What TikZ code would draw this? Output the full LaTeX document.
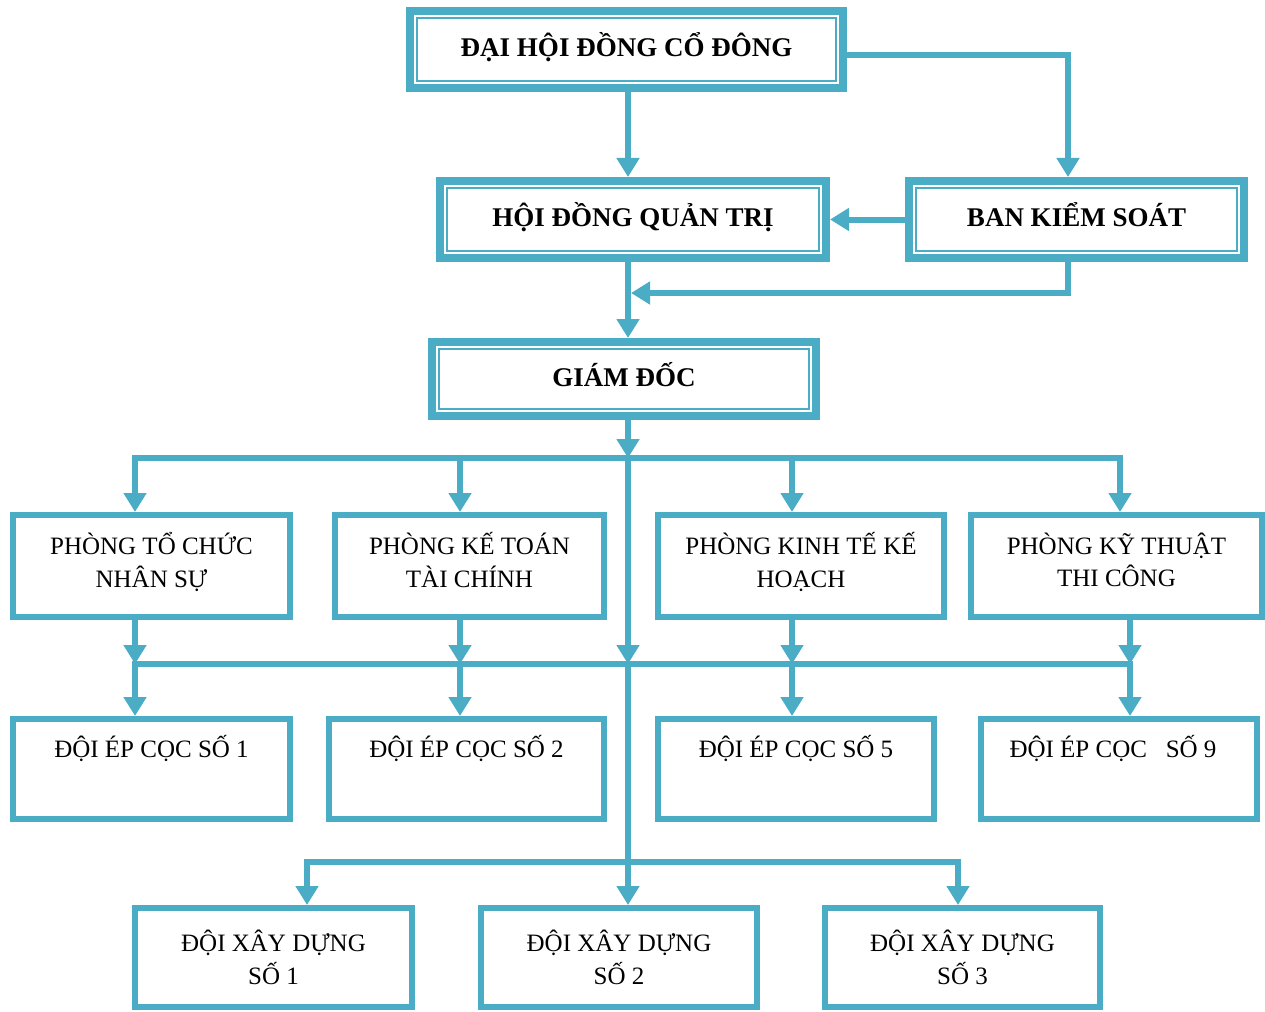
\documentclass[tikz,border=0pt]{standalone}
\usepackage{fontspec}
\setmainfont{Liberation Serif}
\usetikzlibrary{arrows.meta}
\definecolor{tealc}{HTML}{4BACC6}
\tikzset{
  ln/.style={draw=tealc, line width=6pt},
  bus/.style={ln, line cap=rect},
  arr/.style={ln, -{Triangle[width=22pt,length=19pt]}},
  dbox/.style={draw=tealc, line width=8pt, minimum height=77pt, inner sep=0pt,
    text height=20pt, text depth=6pt,
    font=\fontsize{27}{32}\selectfont\bfseries},
  sbox/.style={draw=tealc, line width=6pt, inner sep=0pt, align=center,
    font=\fontsize{25}{32.5}\selectfont},
  tbox/.style={draw=tealc, line width=6pt, inner sep=0pt, minimum height=100pt,
    text height=22pt, text depth=46pt, font=\fontsize{25}{32}\selectfont},
  innerline/.style={draw=tealc, line width=2pt}
}
\newcommand\innerbox[1]{\draw[innerline] ([shift={(11pt,-11pt)}]#1.north west) rectangle ([shift={(-11pt,11pt)}]#1.south east);}
\newcommand\liftup{\\[-20pt]\mbox{}}
\begin{document}
\begin{tikzpicture}[x=1pt,y=-1pt]
\useasboundingbox (0,0) rectangle (1265,1011);
% top level boxes
\node[dbox, minimum width=433pt] (dh) at (626.5,49.5) {ĐẠI HỘI ĐỒNG CỔ ĐÔNG};
\node[dbox, minimum width=386pt] (hd) at (633,219.5) {HỘI ĐỒNG QUẢN TRỊ};
\node[dbox, minimum width=335pt] (bk) at (1076.5,219.5) {BAN KIỂM SOÁT};
\node[dbox, minimum width=384pt, minimum height=74pt] (gd) at (624,379) {GIÁM ĐỐC};
\innerbox{dh}
\innerbox{hd}
\innerbox{bk}
\innerbox{gd}
% departments
\node[sbox, minimum width=277pt, minimum height=102pt] (p1) at (151.5,566) {PHÒNG TỔ CHỨC\\NHÂN SỰ\liftup};
\node[sbox, minimum width=269pt, minimum height=102pt] (p2) at (469.5,566) {PHÒNG KẾ TOÁN\\TÀI CHÍNH\liftup};
\node[sbox, minimum width=286pt, minimum height=102pt] (p3) at (801,566) {PHÒNG KINH TẾ KẾ\\HOẠCH\liftup};
\node[sbox, minimum width=291pt, minimum height=102pt] (p4) at (1116.5,566) {PHÒNG KỸ THUẬT\\THI CÔNG\liftup};
% pile teams
\node[tbox, minimum width=277pt] (d1) at (151.5,769) {ĐỘI ÉP CỌC SỐ 1};
\node[tbox, minimum width=275pt] (d2) at (466.5,769) {ĐỘI ÉP CỌC SỐ 2};
\node[tbox, minimum width=276pt] (d5) at (796,769) {ĐỘI ÉP CỌC SỐ 5};
\node[tbox, minimum width=276pt] (d9) at (1119,769) {\hspace*{-12pt}ĐỘI ÉP CỌC\hspace{0.75em}SỐ 9};
% construction teams
\node[sbox, minimum width=277pt, minimum height=99pt] (x1) at (273.5,957.5) {ĐỘI XÂY DỰNG\\SỐ 1};
\node[sbox, minimum width=276pt, minimum height=99pt] (x2) at (619,957.5) {ĐỘI XÂY DỰNG\\SỐ 2};
\node[sbox, minimum width=275pt, minimum height=99pt] (x3) at (962.5,957.5) {ĐỘI XÂY DỰNG\\SỐ 3};
% coordinates
\coordinate (sp) at (628,0);
\coordinate (k) at (1068,55);
\coordinate (m) at (631,293);
\coordinate (t1) at (135,458);
\coordinate (t2) at (460,458);
\coordinate (t3) at (792,458);
\coordinate (t4) at (1120,458);
\coordinate (u1) at (135,664);
\coordinate (u2) at (460,664);
\coordinate (u3) at (792,664);
\coordinate (u4) at (1130,664);
\coordinate (c2) at (628,664);
\coordinate (c3) at (628,862);
\coordinate (v1) at (307,862);
\coordinate (v3) at (958,862);
% top connectors
\draw[arr] (dh.south -| sp) -- (hd.north -| sp);
\draw[arr] (dh.east |- k) -| (bk.north -| k);
\draw[arr] (bk.west) -- (hd.east);
\draw[arr] (bk.south -| k) |- (m);
\draw[arr] (hd.south -| sp) -- (gd.north -| sp);
\draw[arr] (gd.south -| sp) -- (sp |- t1);
% bus 1
\draw[bus] (t1) -- (t4);
\draw[arr] (t1) -- (p1.north -| t1);
\draw[arr] (t2) -- (p2.north -| t2);
\draw[arr] (t3) -- (p3.north -| t3);
\draw[arr] (t4) -- (p4.north -| t4);
% spine
\draw[arr] (sp |- t1) -- (c2);
\draw[ln] (c2) -- (c3);
% bus 2
\draw[bus] (u1) -- (u4);
\draw[arr] (p1.south -| u1) -- (u1);
\draw[arr] (p2.south -| u2) -- (u2);
\draw[arr] (p3.south -| u3) -- (u3);
\draw[arr] (p4.south -| u4) -- (u4);
\draw[arr] (u1) -- (d1.north -| u1);
\draw[arr] (u2) -- (d2.north -| u2);
\draw[arr] (u3) -- (d5.north -| u3);
\draw[arr] (u4) -- (d9.north -| u4);
% bus 3
\draw[bus] (v1) -- (v3);
\draw[arr] (v1) -- (x1.north -| v1);
\draw[arr] (c3) -- (x2.north -| c3);
\draw[arr] (v3) -- (x3.north -| v3);
\end{tikzpicture}
\end{document}
